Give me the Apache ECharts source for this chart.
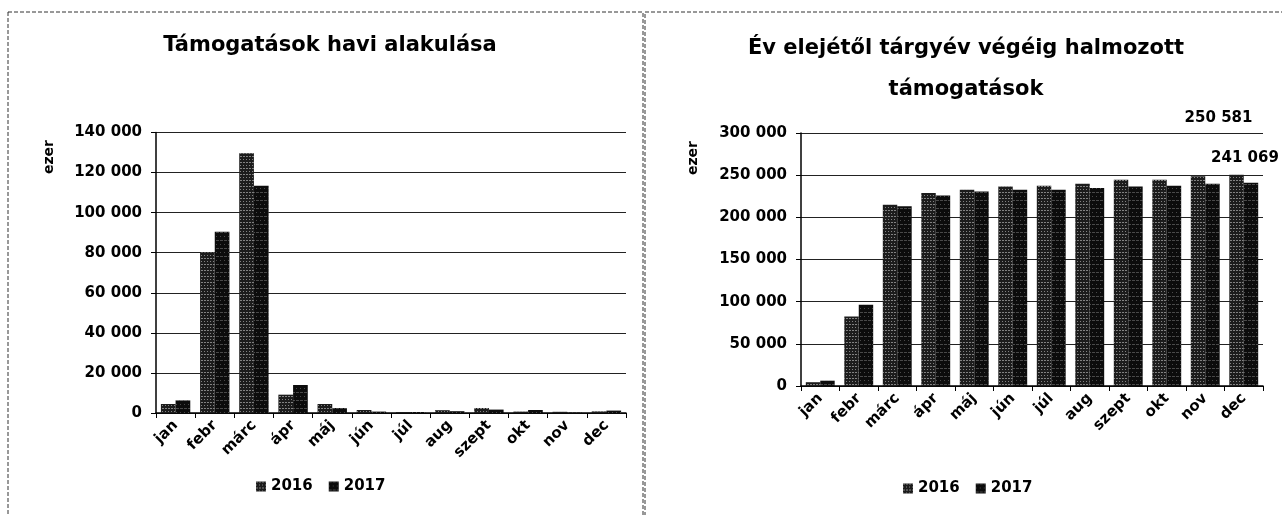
<!DOCTYPE html>
<html>
<head>
<meta charset="utf-8">
<script src="https://cdn.jsdelivr.net/npm/echarts@6/dist/echarts.min.js"></script>
<style>
html,body{margin:0;padding:0;background:#fff;}
#c{width:1282px;height:515px;}
</style>
</head>
<body>
<div id="c"></div>
<script>
const months = ['jan','febr','márc','ápr','máj','jún','júl','aug','szept','okt','nov','dec'];
const seriesNames = ['2016','2017'];
const monthly2016 = [4490, 80150, 129700, 9150, 4490, 1500, 500, 1400, 2500, 700, 600, 800];
const monthly2017 = [6320, 90450, 113400, 13970, 2490, 700, 500, 900, 1700, 1500, 200, 1200];
const cum2016 = [4500, 82300, 215000, 228800, 232700, 236700, 237500, 239900, 244600, 244600, 248600, 250581];
const cum2017 = [6300, 96200, 213000, 226000, 230700, 232700, 232700, 234700, 236700, 237500, 239900, 241069];
const leftTicks = {max: 140000, interval: 20000};
const rightTicks = {max: 300000, interval: 50000};
const titleLeft = 'Támogatások havi alakulása';
const titleRight = 'Év elejétől tárgyév végéig halmozott\ntámogatások';
const unitLabel = 'ezer';

const FONT = 'DejaVu Sans';
const fmt = v => String(v).replace(/\B(?=(\d{3})+(?!\d))/g, ' ');

const decal2016 = {symbol:'rect', symbolSize:1, color:'rgba(255,255,255,0.45)', dashArrayX:[[1,2],[2,1]], dashArrayY:[1,2], rotation:0};
const decal2017 = {symbol:'rect', symbolSize:1, color:'rgba(255,255,255,0.25)', dashArrayX:[[1,3],[3,1]], dashArrayY:[1,3], rotation:0};
const col2016 = '#1c1c1c';
const col2017 = '#0c0c0c';

function xAxis(gi){
  return {
    type:'category', gridIndex:gi, data:months,
    axisLine:{lineStyle:{color:'#000', width:1.5}},
    axisTick:{show:true, alignWithLabel:false, length:5, lineStyle:{color:'#000'}},
    axisLabel:{rotate:45, margin:10, color:'#000', fontFamily:FONT, fontSize:15, fontWeight:'bold'}
  };
}
function yAxis(gi, t){
  return {
    type:'value', gridIndex:gi, min:0, max:t.max, interval:t.interval,
    axisLine:{show:true, lineStyle:{color:'#000', width:1.5}},
    axisTick:{show:true, length:5, lineStyle:{color:'#000'}},
    splitLine:{show:true, lineStyle:{color:'#222', width:1.2}},
    axisLabel:{margin:14, color:'#000', fontFamily:FONT, fontSize:15, fontWeight:'bold', formatter:fmt}
  };
}
function barSeries(name, data, gi, color, decal, extra){
  return Object.assign({
    name:name, type:'bar', xAxisIndex:gi, yAxisIndex:gi, data:data,
    barGap:'0%', barCategoryGap:'25%',
    itemStyle:{color:color, decal:decal},
    emphasis:{disabled:true}
  }, extra||{});
}
const labelStyle = {show:true, position:'top', color:'#000', fontFamily:FONT, fontSize:15, fontWeight:'bold', formatter: p => fmt(p.value)};

const chart = echarts.init(document.getElementById('c'), null, {renderer:'canvas'});
chart.setOption({
  animation:false,
  backgroundColor:'#fff',
  title:[
    {text:titleLeft, left:330, top:35, textAlign:'center', padding:0,
     textStyle:{fontFamily:FONT, fontSize:21, fontWeight:'bold', color:'#000'}},
    {text:titleRight, left:966, top:28, textAlign:'center', padding:0,
     textStyle:{fontFamily:FONT, fontSize:21, fontWeight:'bold', color:'#000', lineHeight:41}}
  ],
  legend:[
    {data:seriesNames, left:256, top:479, icon:'rect', itemWidth:10, itemHeight:10, itemGap:16, padding:0,
     textStyle:{fontFamily:FONT, fontSize:15, fontWeight:'bold', color:'#000'}},
    {data:seriesNames, left:903, top:481, icon:'rect', itemWidth:10, itemHeight:10, itemGap:16, padding:0,
     textStyle:{fontFamily:FONT, fontSize:15, fontWeight:'bold', color:'#000'}}
  ],
  grid:[
    {left:156, width:470, top:132.5, height:280.5},
    {left:801, width:462, top:133, height:253}
  ],
  xAxis:[xAxis(0), xAxis(1)],
  yAxis:[yAxis(0, leftTicks), yAxis(1, rightTicks)],
  series:[
    barSeries(seriesNames[0], monthly2016, 0, col2016, decal2016),
    barSeries(seriesNames[1], monthly2017, 0, col2017, decal2017),
    barSeries(seriesNames[0], cum2016.map((v,i)=> i===cum2016.length-1 ? {value:v, label:Object.assign({}, labelStyle, {offset:[-18,-44]})} : v), 1, col2016, decal2016),
    barSeries(seriesNames[1], cum2017.map((v,i)=> i===cum2017.length-1 ? {value:v, label:Object.assign({}, labelStyle, {offset:[-6,-12]})} : v), 1, col2017, decal2017)
  ],
  graphic:[
    {type:'rect', shape:{x:8, y:12, width:635, height:510}, style:{fill:'none', stroke:'#333', lineWidth:1, lineDash:[4,2]}, silent:true},
    {type:'rect', shape:{x:645, y:12, width:645, height:510}, style:{fill:'none', stroke:'#333', lineWidth:1, lineDash:[4,2]}, silent:true},
    {type:'text', x:49, y:157, rotation:Math.PI/2, style:{text:unitLabel, fontFamily:FONT, fontSize:14, fontWeight:'bold', fill:'#000', align:'center', verticalAlign:'middle'}},
    {type:'text', x:693, y:158, rotation:Math.PI/2, style:{text:unitLabel, fontFamily:FONT, fontSize:14, fontWeight:'bold', fill:'#000', align:'center', verticalAlign:'middle'}}
  ]
});
</script>
</body>
</html>
